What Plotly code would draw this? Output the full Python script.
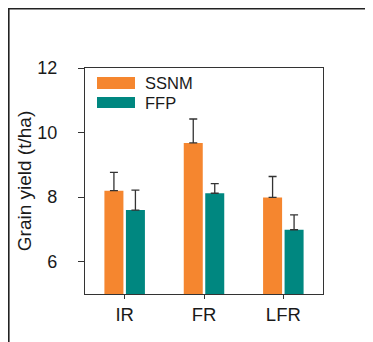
import plotly.graph_objects as go

categories = ["IR", "FR", "LFR"]
ssnm_values = [8.20, 9.68, 7.99]
ssnm_errors = [0.57, 0.74, 0.65]
ffp_values = [7.60, 8.12, 6.99]
ffp_errors = [0.62, 0.30, 0.46]
y_ticks = [6, 8, 10, 12]

ORANGE = "#F5862F"
TEAL = "#008780"
AX = "#333333"
TXT = "#1a1a1a"
FONT = "Liberation Sans, Arial, sans-serif"

# the page body has an 8px margin; work in window pixels and convert
OFF = 8
W, H = 373 - OFF, 342 - OFF
PL, PR, PT, PB = 85, 323, 68, 294          # plot area in window pixels
L, R, T, B = PL - OFF, W - (PR - OFF), PT - OFF, H - (PB - OFF)
pw, ph = W - L - R, H - T - B

def px(x):
    return (x - OFF - L) / pw

def py(y):
    return (H - B - (y - OFF)) / ph

fig = go.Figure()
fig.add_trace(go.Bar(
    x=categories, y=ssnm_values, name="SSNM", marker=dict(color=ORANGE, line=dict(width=0)),
    error_y=dict(type="data", array=ssnm_errors, arrayminus=[0] * len(ssnm_errors),
                 symmetric=False, color=AX, thickness=1.3, width=4),
    showlegend=False,
))
fig.add_trace(go.Bar(
    x=categories, y=ffp_values, name="FFP", marker=dict(color=TEAL, line=dict(width=0)),
    error_y=dict(type="data", array=ffp_errors, arrayminus=[0] * len(ffp_errors),
                 symmetric=False, color=AX, thickness=1.3, width=4),
    showlegend=False,
))

# custom legend (wide swatches)
legend_items = [("SSNM", ORANGE, 77, 89, 83), ("FFP", TEAL, 97, 108, 102.5)]
for name, col, y0, y1, yt in legend_items:
    fig.add_shape(type="rect", xref="paper", yref="paper",
                  x0=px(97), x1=px(135), y0=py(y1), y1=py(y0),
                  fillcolor=col, line=dict(width=0))
    fig.add_annotation(xref="paper", yref="paper", x=px(143), y=py(yt),
                       text=name, showarrow=False, xanchor="left", yanchor="middle",
                       font=dict(size=16.5, color=TXT, family=FONT))

# outer frame (top and left edges)
fig.add_shape(type="path", xref="paper", yref="paper",
              path=f"M {px(8.6)},{py(360)} L {px(8.6)},{py(8.6)} L {px(390)},{py(8.6)}",
              line=dict(color="#222222", width=2))

fig.update_layout(
    width=W, height=H,
    margin=dict(l=L, r=R, t=T, b=B, autoexpand=False),
    paper_bgcolor="white", plot_bgcolor="white",
    barmode="group", bargap=0.458, bargroupgap=0.116,
    font=dict(family=FONT, color=TXT, size=18),
    xaxis=dict(
        range=[-0.5, 2.5], showline=True, linecolor=AX, linewidth=1.3, mirror=True,
        ticks="outside", ticklen=4, tickwidth=1.2, tickcolor=AX,
        tickfont=dict(size=18.5), showgrid=False, zeroline=False, fixedrange=True,
    ),
    yaxis=dict(
        range=[5, 12], tickvals=y_ticks, showline=True, linecolor=AX, linewidth=1.3, mirror=True,
        ticks="outside", ticklen=6, tickwidth=1.2, tickcolor=AX,
        tickfont=dict(size=18), ticklabelstandoff=17,
        title=dict(text="Grain yield (t/ha)", font=dict(size=19), standoff=0),
        showgrid=False, zeroline=False, fixedrange=True, automargin=False,
    ),
)

fig.write_html("out.html")
